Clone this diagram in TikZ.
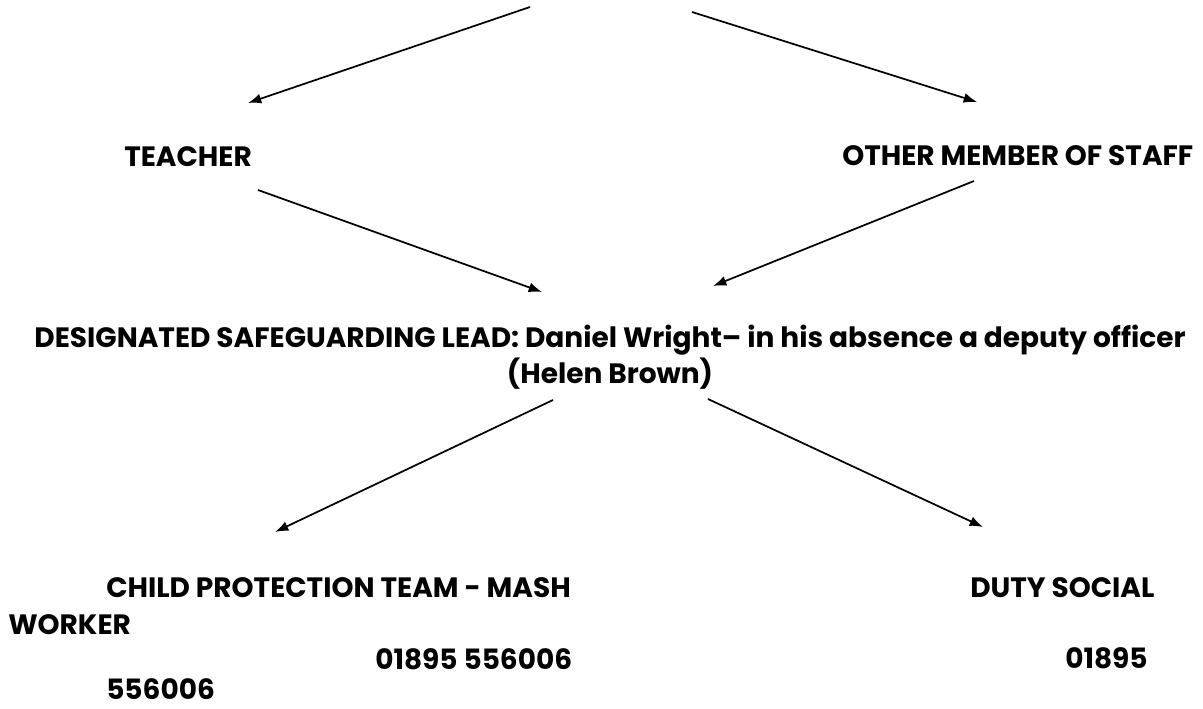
\documentclass[tikz,border=0pt]{standalone}
\usepackage{fontspec}
\setmainfont{Poppins}
\usepackage{tikz}
\usetikzlibrary{arrows.meta,positioning,calc}

\begin{document}
\begin{tikzpicture}[x=0.75pt, y=-0.75pt,
    lbl/.style={anchor=base west, inner sep=0pt, font=\fontsize{21}{25}\selectfont\bfseries},
    flow/.style={-{Latex[length=10pt,width=7.5pt]}, line width=1.3pt}]
    \useasboundingbox (0,0) rectangle (1203,709);

    % Level 0 (free start points)
    \coordinate (top-l) at (530,7);
    \coordinate (top-r) at (692,12);

    % Level 1
    \node[lbl] (teacher) at (124,167) {TEACHER};
    \node[lbl] (staff) at (842,166) {OTHER MEMBER OF STAFF};
    \coordinate (teacher-in) at (248,103);
    \coordinate (staff-in) at (977,102);
    \coordinate (teacher-out) at (258,190);
    \coordinate (staff-out) at (974,181);

    \draw[flow] (top-l) -- (teacher-in);
    \draw[flow] (top-r) -- (staff-in);

    % Level 2
    \node[lbl, anchor=base] (dsl) at (610,347) {DESIGNATED SAFEGUARDING LEAD: Daniel Wright– in his absence a deputy officer};
    \node[lbl, anchor=base] (dsl-name) at (610,383) {(Helen Brown)};
    \coordinate (dsl-in-l) at (542,292);
    \coordinate (dsl-in-r) at (713,286);
    \coordinate (dsl-out-l) at (553,400);
    \coordinate (dsl-out-r) at (708,399);

    \draw[flow] (teacher-out) -- (dsl-in-l);
    \draw[flow] (staff-out) -- (dsl-in-r);

    % Level 3
    \node[lbl] (mash) at (106,597) {CHILD PROTECTION TEAM - MASH};
    \node[lbl] (duty) at (970,597) {DUTY SOCIAL};
    \node[lbl] (duty-2) at (8,634) {WORKER};
    \node[lbl] (mash-tel) at (375,669) {01895 556006};
    \node[lbl] (duty-tel) at (1065,668) {01895};
    \node[lbl] (duty-tel-2) at (106,699) {556006};
    \coordinate (mash-in) at (275,532);
    \coordinate (duty-in) at (983,527);

    \draw[flow] (dsl-out-l) -- (mash-in);
    \draw[flow] (dsl-out-r) -- (duty-in);
\end{tikzpicture}
\end{document}
